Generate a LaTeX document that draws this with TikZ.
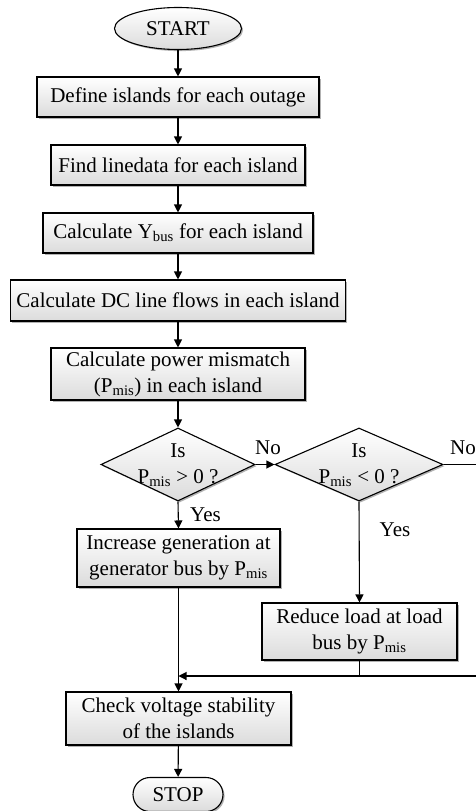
\documentclass[tikz,border=0pt]{standalone}
\usepackage{fontspec}
\setmainfont{Liberation Serif}
\usetikzlibrary{shapes.geometric,shapes.misc,arrows.meta,shadows}
\newcommand\mysub[1]{\textsubscript{#1}}
\tikzset{
  base/.style={draw=black, line width=1.1pt, font=\fontsize{21}{26}\selectfont, align=center, inner sep=0pt,
     top color=white, bottom color=black!14,
     drop shadow={shadow xshift=1.6pt, shadow yshift=-1.6pt, fill=black!55, opacity=.55}},
  procbox/.style={base, rectangle},
  termbox/.style={base, ellipse},
  stopbox/.style={base, rounded rectangle},
  dia/.style={base, diamond},
  conn/.style={line width=1.1pt, -{Triangle[length=8pt,width=8pt]}},
  plain/.style={line width=1.1pt},
  lbl/.style={font=\fontsize{21}{26}\selectfont, inner sep=0pt}
}
\begin{document}
\begin{tikzpicture}[x=1pt,y=1pt]
\useasboundingbox (0,0) rectangle (476,-811);
\clip (0,0) rectangle (476,-811);
\fill[white] (0,0) rectangle (476,-811);
\node[termbox, minimum width=127pt, minimum height=42pt] (start) at (178,-28.5) {START};
\node[procbox, minimum width=282pt, minimum height=40pt] (b1) at (178,-97) {Define islands for each outage};
\node[procbox, minimum width=254pt, minimum height=40pt] (b2) at (178,-165) {Find linedata for each island};
\node[procbox, minimum width=270pt, minimum height=40pt] (b3) at (178,-233) {Calculate Y\mysub{bus} for each island};
\node[procbox, minimum width=335pt, minimum height=41pt] (b4) at (178,-300.5) {Calculate DC line flows in each island};
\node[procbox, minimum width=254pt, minimum height=52pt] (b5) at (178,-374) {Calculate power mismatch\\(P\mysub{mis}) in each island};
\node[dia, minimum width=154pt, minimum height=73pt] (d1) at (178,-464.5) {};
\node[lbl, align=center] (t1) at (178,-465) {Is\\P\mysub{mis} > 0 ?};
\node[dia, minimum width=168pt, minimum height=73pt] (d2) at (359,-464.5) {};
\node[lbl, align=center] (t2) at (359,-465) {Is\\P\mysub{mis} < 0 ?};
\node[procbox, minimum width=203pt, minimum height=58pt] (b6) at (178.5,-558) {Increase generation at\\generator bus by P\mysub{mis}};
\node[procbox, minimum width=195pt, minimum height=57pt] (b7) at (359.5,-631.5) {Reduce load at load\\bus by P\mysub{mis}};
\node[procbox, minimum width=225pt, minimum height=53pt] (b8) at (178.5,-718.5) {Check voltage stability\\of the islands};
\node[stopbox, minimum width=90pt, minimum height=34pt] (stop) at (178,-794.5) {STOP};

\coordinate (m) at (178.5,-676);
\coordinate (r1) at (478,-464.5);
\coordinate (r2) at (478,-676);
\coordinate (c7) at (359.5,-676);

\draw[conn] (start) -- (b1);
\draw[conn] (b1) -- (b2);
\draw[conn] (b2) -- (b3);
\draw[conn] (b3) -- (b4);
\draw[conn] (b4) -- (b5);
\draw[conn] (b5) -- (d1);
\draw[conn] (d1.east) -- (d2.west);
\draw[conn] (d1.south) -- (b6.north);
\draw[conn] (d2.south) -- (b7.north);
\draw[conn] (b6.south) -- (b8.north);
\draw[plain] (d2.east) -- (r1) -- (r2);
\draw[conn] (r2) -- (m);
\draw[plain] (b7.south) -- (c7);
\draw[conn] (b8) -- (stop);

\node[lbl] (no1) at (268,-448) {No};
\node[lbl] (no2) at (463,-448) {No};
\node[lbl] (yes1) at (205.5,-515) {Yes};
\node[lbl] (yes2) at (395,-530) {Yes};
\end{tikzpicture}
\end{document}
